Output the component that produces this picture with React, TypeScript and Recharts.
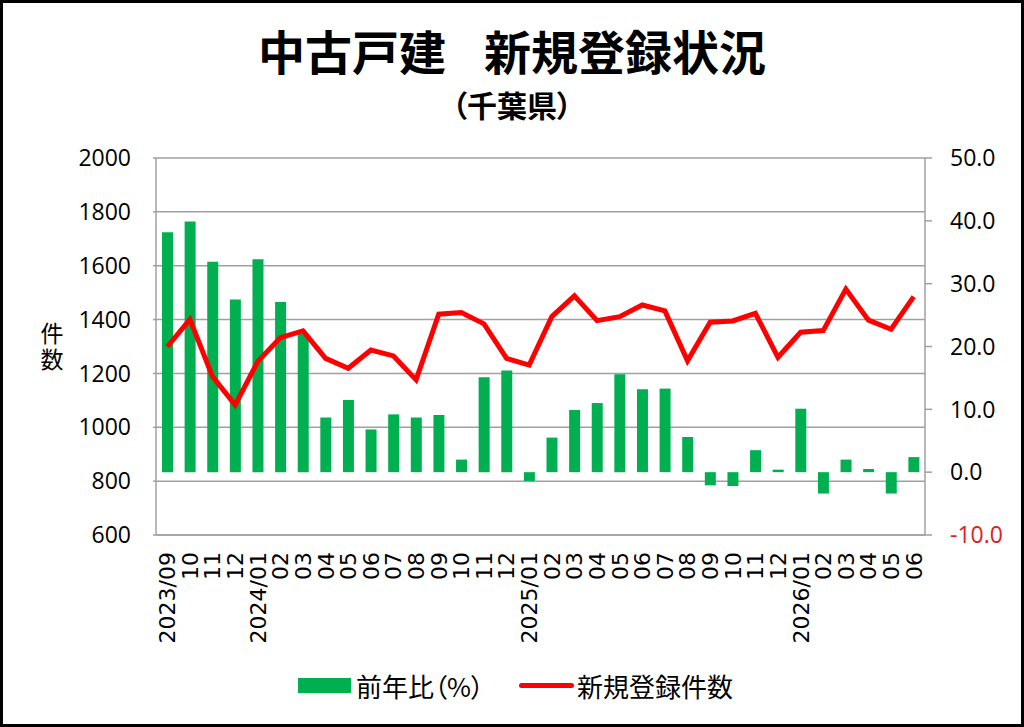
import React from "react";
import {
  ComposedChart,
  Bar,
  Line,
  XAxis,
  YAxis,
  CartesianGrid,
} from "recharts";

const months = [
  "2023/09", "2023/10", "2023/11", "2023/12",
  "2024/01", "2024/02", "2024/03", "2024/04", "2024/05", "2024/06",
  "2024/07", "2024/08", "2024/09", "2024/10", "2024/11", "2024/12",
  "2025/01", "2025/02", "2025/03", "2025/04", "2025/05", "2025/06",
  "2025/07", "2025/08", "2025/09", "2025/10", "2025/11", "2025/12",
  "2026/01", "2026/02", "2026/03", "2026/04", "2026/05", "2026/06",
];

// 前年比（%） - right axis
const yoyRate = [
  38.2, 39.9, 33.5, 27.5, 33.9, 27.1, 22.0, 8.7, 11.5, 6.8,
  9.2, 8.7, 9.1, 2.0, 15.1, 16.2, -1.4, 5.5, 9.9, 11.0,
  15.6, 13.2, 13.3, 5.6, -2.1, -2.2, 3.5, 0.4, 10.1, -3.4,
  2.0, 0.5, -3.4, 2.4,
];

// 新規登録件数 - left axis
const newListings = [
  1299, 1401, 1188, 1083, 1244, 1333, 1358, 1256, 1219, 1287,
  1265, 1176, 1420, 1426, 1384, 1256, 1231, 1411, 1488, 1396,
  1411, 1454, 1432, 1247, 1390, 1395, 1423, 1260, 1353, 1359,
  1513, 1398, 1364, 1485,
];

const leftTicks = [600, 800, 1000, 1200, 1400, 1600, 1800, 2000];
const rightTicks = [-10, 0, 10, 20, 30, 40, 50];

const data = months.map((m, i) => ({
  month: m,
  yoy: yoyRate[i],
  count: newListings[i],
}));

const GREEN = "#00b050";
const RED = "#ff0000";
const GRID = "#a0a0a0";
const NUM_FONT = "'Open Sans', 'Noto Sans', sans-serif";
const JP_FONT = "'Noto Sans CJK JP', sans-serif";

const MonthTick = ({ x, y, payload, index }: any) => {
  const v: string = payload.value;
  const label = index === 0 || v.endsWith("/01") ? v : v.slice(5);
  return (
    <text
      transform={`translate(${x}, ${y + 17}) rotate(-90)`}
      textAnchor="end"
      dy="0.36em"
      fontSize={22}
      fontFamily="'DejaVu Sans', sans-serif"
      fill="#000"
    >
      {label}
    </text>
  );
};

const RightTick = ({ x, y, payload }: any) => (
  <text
    x={x}
    y={y}
    dy="0.36em"
    textAnchor="start"
    fontSize={23}
    fontFamily={NUM_FONT}
    fill={payload.value < 0 ? "#e02020" : "#000"}
  >
    {payload.value.toFixed(1)}
  </text>
);

export default function App() {
  return (
    <div
      style={{
        position: "absolute",
        left: 0,
        top: 0,
        width: 1024,
        height: 727,
        background: "#fff",
        overflow: "hidden",
      }}
    >
      <div
        style={{
          position: "absolute",
          left: 0,
          top: 0,
          width: 1024,
          height: 727,
          border: "3px solid #000",
          boxSizing: "border-box",
          pointerEvents: "none",
          zIndex: 2,
        }}
      />
      <div
        style={{
          position: "absolute",
          left: 0,
          top: 21,
          width: 1024,
          textAlign: "center",
          fontFamily: JP_FONT,
          fontWeight: 700,
          fontSize: 47,
          lineHeight: "58px",
          color: "#000",
          whiteSpace: "nowrap",
        }}
      >
        中古戸建
        <span style={{ display: "inline-block", width: 38 }} />
        新規登録状況
      </div>
      <div
        style={{
          position: "absolute",
          left: 0,
          top: 86,
          width: 1024,
          textAlign: "center",
          fontFamily: JP_FONT,
          fontWeight: 700,
          fontSize: 30,
          lineHeight: "36px",
          fontFeatureSettings: "'palt'",
          color: "#000",
        }}
      >
        （千葉県）
      </div>
      <div
        style={{
          position: "absolute",
          left: 38,
          top: 322,
          writingMode: "vertical-rl",
          fontFamily: JP_FONT,
          fontSize: 23,
          lineHeight: "28px",
          letterSpacing: 3,
          color: "#000",
        }}
      >
        件数
      </div>

      <ComposedChart
        width={1024}
        height={727}
        data={data}
        margin={{ top: 158, right: 29, bottom: 72, left: 96 }}
        style={{ position: "absolute", left: 0, top: 0 }}
      >
        <CartesianGrid
          yAxisId="left"
          vertical={false}
          stroke={GRID}
          strokeWidth={1.5}
        />
        <XAxis
          dataKey="month"
          interval={0}
          height={120}
          tickLine={false}
          tickSize={0}
          tickMargin={0}
          axisLine={{ stroke: GRID, strokeWidth: 1.5 }}
          tick={<MonthTick />}
        />
        <YAxis
          yAxisId="left"
          orientation="left"
          width={60}
          domain={[600, 2000]}
          ticks={leftTicks}
          interval={0}
          allowDataOverflow
          tickSize={3}
          tickMargin={22}
          tickLine={{ stroke: GRID, strokeWidth: 1.5 }}
          axisLine={{ stroke: GRID, strokeWidth: 1.5 }}
          tick={{ fill: "#000", fontSize: 23, fontFamily: NUM_FONT }}
        />
        <YAxis
          yAxisId="right"
          orientation="right"
          width={70}
          domain={[-10, 50]}
          ticks={rightTicks}
          interval={0}
          allowDataOverflow
          tickSize={7}
          tickMargin={18}
          tickLine={{ stroke: GRID, strokeWidth: 1.5 }}
          axisLine={{ stroke: GRID, strokeWidth: 1.5 }}
          tick={<RightTick />}
        />
        <Bar
          yAxisId="right"
          dataKey="yoy"
          fill={GREEN}
          barSize={11}
          isAnimationActive={false}
        />
        <Line
          yAxisId="left"
          dataKey="count"
          stroke={RED}
          strokeWidth={5}
          strokeLinejoin="miter"
          dot={false}
          activeDot={false}
          isAnimationActive={false}
        />
      </ComposedChart>

      <div
        style={{
          position: "absolute",
          left: 298,
          top: 668,
          height: 34,
          display: "flex",
          alignItems: "center",
          fontFamily: JP_FONT,
          fontSize: 26,
          fontFeatureSettings: "'palt'",
          color: "#000",
          whiteSpace: "nowrap",
        }}
      >
        <span style={{ width: 53, height: 15, background: GREEN, display: "inline-block" }} />
        <span style={{ marginLeft: 5 }}>前年比（%）</span>
        <span
          style={{
            width: 55,
            height: 5,
            background: RED,
            borderRadius: 3,
            display: "inline-block",
            marginLeft: 35,
          }}
        />
        <span style={{ marginLeft: 3 }}>新規登録件数</span>
      </div>
    </div>
  );
}
